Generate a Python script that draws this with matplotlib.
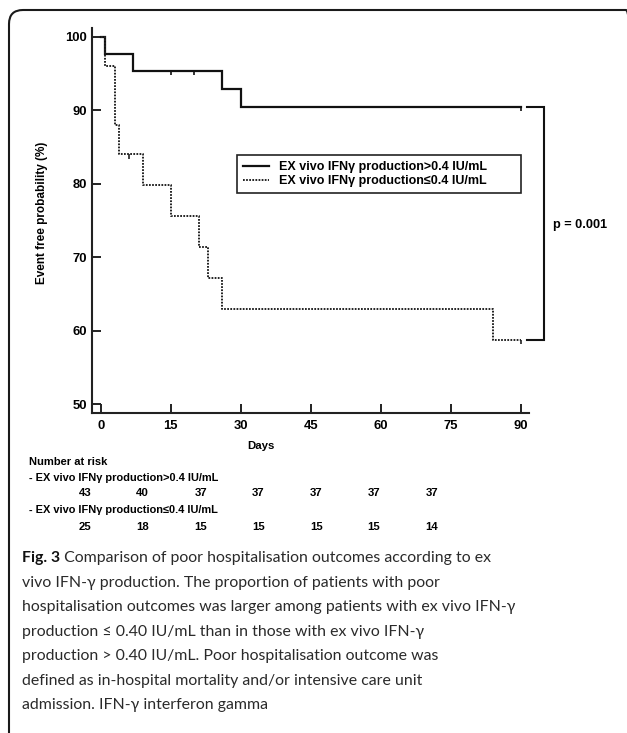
import matplotlib
matplotlib.use('Agg')
import matplotlib.pyplot as plt
from matplotlib.patches import FancyBboxPatch
from matplotlib.transforms import IdentityTransform, blended_transform_factory

# ---------------- data ----------------
high_times = [0, 1, 7, 26, 30, 90]
high_surv = [100, 97.7, 95.35, 92.9, 90.5, 90.5]
high_censor = [15, 20, 90]

low_times = [0, 1, 3, 4, 9, 15, 21, 23, 26, 84, 90]
low_surv = [100, 96, 88, 84, 79.8, 75.6, 71.4, 67.2, 63.0, 58.8, 58.8]
low_censor = [6, 90]

xticks = [0, 15, 30, 45, 60, 75, 90]
yticks = [50, 60, 70, 80, 90, 100]

risk_times = [0, 15, 30, 45, 60, 75, 90]
risk_high = [43, 40, 37, 37, 37, 37, 37]
risk_low = [25, 18, 15, 15, 15, 15, 14]

label_high = "EX vivo IFN\u03b3 production>0.4 IU/mL"
label_low = "EX vivo IFN\u03b3 production\u22640.4 IU/mL"
p_text = "p = 0.001"
xlabel = "Days"
ylabel = "Event free probability (%)"
risk_title = "Number at risk"

caption_bold = "Fig. 3"
caption_lines = [
    " Comparison of poor hospitalisation outcomes according to ex",
    "vivo IFN-\u03b3 production. The proportion of patients with poor",
    "hospitalisation outcomes was larger among patients with ex vivo IFN-\u03b3",
    "production \u2264 0.40 IU/mL than in those with ex vivo IFN-\u03b3",
    "production > 0.40 IU/mL. Poor hospitalisation outcome was",
    "defined as in-hospital mortality and/or intensive care unit",
    "admission. IFN-\u03b3 interferon gamma",
]

# ---------------- layout helpers ----------------
W, H = 627, 733
def fx(x):
    return x / W
def fy(y):
    return 1 - y / H

SANS = ['Liberation Sans', 'DejaVu Sans']
CAP = ['Lato', 'DejaVu Sans']
plt.rcParams['font.family'] = SANS

fig = plt.figure(figsize=(W / 100, H / 100), dpi=100)

# outer rounded frame (extends below the picture)
frame = FancyBboxPatch((9, -40), 631, 723 + 40,
                       boxstyle="round,pad=0,rounding_size=14",
                       transform=IdentityTransform(), fill=False,
                       edgecolor='#1a1a1a', linewidth=1.5)
fig.patches.append(frame)

# main axes
ax_l, ax_r, ax_t, ax_b = 92, 529, 28.3, 413.3
ax = fig.add_axes([fx(ax_l), fy(ax_b), fx(ax_r - ax_l), (ax_b - ax_t) / H])
ax.set_xlim(-1.86, 91.77)
ax.set_ylim(48.78, 101.16)

l1, = ax.step(high_times, high_surv, where='post', color='#111111',
              linewidth=1.6, label=label_high, solid_joinstyle='miter')
l2, = ax.step(low_times, low_surv, where='post', color='#222222',
              linewidth=1.4, linestyle=(0, (0.9, 0.7)), label=label_low)

def surv_at(times, surv, t):
    val = surv[0]
    for tt, ss in zip(times, surv):
        if tt <= t:
            val = ss
    return val

for t in high_censor:
    s = surv_at(high_times, high_surv, t)
    ax.vlines(t, s - 0.6, s, color='#111111', linewidth=1.2)
for t in low_censor:
    s = surv_at(low_times, low_surv, t)
    ax.vlines(t, s - 0.6, s, color='#222222', linewidth=1.2)

# bracket for p-value
s_end = high_surv[-1]
d_end = low_surv[-1]
ax.plot([91.3, 95.05, 95.05, 91.3], [s_end, s_end, d_end, d_end],
        color='#111111', linewidth=1.5, clip_on=False,
        solid_joinstyle='miter')
ax.text(97.0, 74.4, p_text, ha='left', va='center', fontsize=9.2,
        fontweight='bold', clip_on=False)

# spines / ticks
for sp in ['top', 'right']:
    ax.spines[sp].set_visible(False)
for sp in ['left', 'bottom']:
    ax.spines[sp].set_linewidth(1.5)
    ax.spines[sp].set_color('#222222')
ax.set_xticks(xticks)
ax.set_yticks(yticks)
ax.tick_params(axis='both', direction='in', length=6.5, width=1.4,
               colors='#222222', labelcolor='black', labelsize=9.4)
ax.tick_params(axis='x', pad=5)
ax.tick_params(axis='y', pad=3.8)
for lab in ax.get_xticklabels() + ax.get_yticklabels():
    lab.set_fontweight('bold')

# legend
x0 = (236.7 - ax_l) / (ax_r - ax_l)
x1 = (520.7 - ax_l) / (ax_r - ax_l)
ytop = (ax_b - 155) / (ax_b - ax_t)
hgt = (196.7 - 155) / (ax_b - ax_t)
leg = ax.legend(handles=[l1, l2], loc='upper left',
                bbox_to_anchor=(x0, ytop - hgt, x1 - x0, hgt),
                mode='expand', borderaxespad=0, fancybox=False,
                edgecolor='#222222', framealpha=1, handlelength=2.05,
                handletextpad=0.85, borderpad=0.5, labelspacing=0.15,
                prop={'family': SANS, 'weight': 'bold', 'size': 9})
leg.get_frame().set_linewidth(1.2)

# axis labels
fig.text(fx(261), fy(446), xlabel, ha='center', va='center',
         fontsize=8.2, fontweight='bold')
fig.text(fx(41.7), fy(213), ylabel, ha='center', va='center',
         rotation=90, fontsize=8.5, fontweight='bold')

# number at risk table
fig.text(fx(29.3), fy(462.3), risk_title, ha='left', va='center',
         fontsize=8.0, fontweight='bold')
fig.text(fx(29.3), fy(478.3), "- " + label_high, ha='left', va='center',
         fontsize=7.9, fontweight='bold')
fig.text(fx(29.3), fy(510), "- " + label_low, ha='left', va='center',
         fontsize=7.9, fontweight='bold')
ax_risk = fig.add_axes([fx(85), fy(530), fx(431.8 - 85), 0.01])
ax_risk.set_xlim(0, 90)
ax_risk.axis('off')
tr = blended_transform_factory(ax_risk.transData, fig.transFigure)
for t, n in zip(risk_times, risk_high):
    ax_risk.text(t, fy(493.3), str(n), transform=tr, ha='center',
                 va='center', fontsize=8.2, fontweight='bold')
for t, n in zip(risk_times, risk_low):
    ax_risk.text(t, fy(526.7), str(n), transform=tr, ha='center',
                 va='center', fontsize=8.2, fontweight='bold')

# caption, font size fitted to reference line width
renderer = fig.canvas.get_renderer()
probe = fig.text(0, 0, caption_lines[2], fontsize=10, family=CAP)
wpx = probe.get_window_extent(renderer).width
probe.remove()
cap_size = 10 * (515 - 21.7) / wpx

cap_color = '#2a2a2a'
y0 = 558.3
step = 24.5
t_bold = fig.text(fx(21.7), fy(y0), caption_bold, ha='left', va='center',
                  fontsize=cap_size, fontweight='bold', family=CAP,
                  color='#111111')
ax.annotate(caption_lines[0], xy=(1, 0.5), xycoords=t_bold, ha='left',
            va='center', fontsize=cap_size, family=CAP, color=cap_color,
            annotation_clip=False)
for i, line in enumerate(caption_lines[1:], start=1):
    fig.text(fx(21.7), fy(y0 + step * i), line, ha='left', va='center',
             fontsize=cap_size, family=CAP, color=cap_color)

fig.savefig('out.png', dpi=100)
